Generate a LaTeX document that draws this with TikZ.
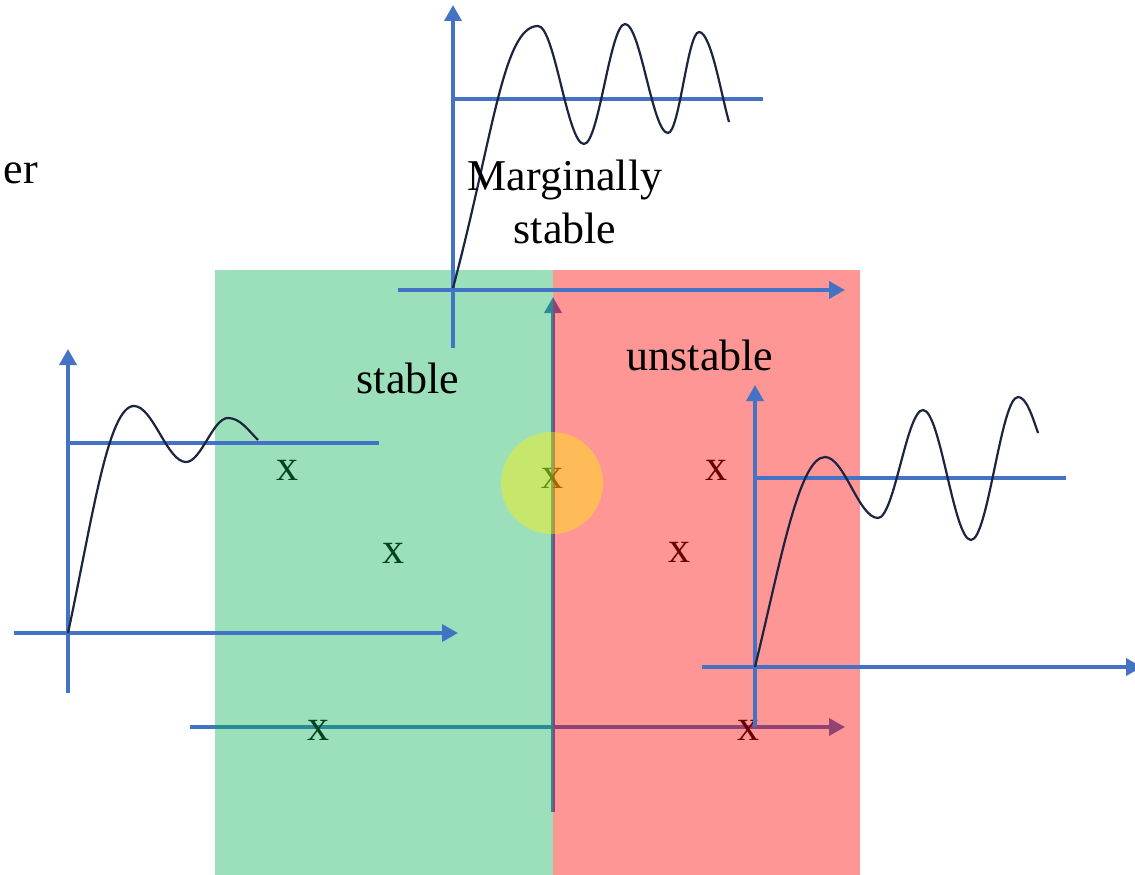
\documentclass[tikz,border=0pt]{standalone}
\usepackage{fontspec}
\setmainfont{Liberation Serif}
\usetikzlibrary{positioning,arrows.meta}
\definecolor{axisblue}{HTML}{4472C4}
\definecolor{curvenavy}{HTML}{1C2440}
\definecolor{stabgreen}{HTML}{00B050}
\definecolor{unstabred}{HTML}{FF0000}
\definecolor{margyellow}{HTML}{FFF000}

\begin{document}
\begin{tikzpicture}[x=1pt, y=-1pt,
  font=\fontsize{44}{53}\selectfont,
  axisln/.style={draw=axisblue, line width=3.6pt},
  axisar/.style={axisln, -{Triangle[length=16pt, width=17pt]}},
  resp/.style={draw=curvenavy, line width=2.2pt},
  lbl/.style={inner sep=0pt, text=black},
  pole/.style={inner sep=0pt, text=black},
  stabfill/.style={fill=stabgreen, fill opacity=0.39},
  unstabfill/.style={fill=unstabred, fill opacity=0.41},
  margfill/.style={fill=margyellow, fill opacity=0.42}
]
\useasboundingbox (0,0) rectangle (1135,875);

% s-plane, under the coloured regions
\coordinate (so) at (553,727);
\draw[axisar] (190,727) -- (845,727);
\draw[axisar] (553,812) -- (553,297);
\node[pole] (p1) at (287,470) {x};
\node[pole] (p2) at (393,553) {x};
\node[pole] (p3) at (552,478) {x};
\node[pole] (p4) at (716,470) {x};
\node[pole] (p5) at (679,552) {x};
\node[pole] (p6) at (318,730) {x};
\node[pole] (p7) at (748,730) {x};

% regions
\fill[stabfill] (215,270) rectangle (553,875);
\fill[unstabfill] (553,270) rectangle (860,875);
\fill[margfill] (p3) ++(0,5) circle (51);

% stable response
\coordinate (lo) at (68,633);
\draw[axisar] (14,633) -- (458,633);
\draw[axisar] (68,693) -- (68,349);
\draw[axisln] (68,443) -- (379,443);
\draw[resp] (lo) .. controls +(24,-112) and +(-26,0) .. (134,406)
  .. controls +(18.9,0) and +(-18.9,0) .. (186,462)
  .. controls +(15.2,0) and +(-15.2,0) .. (228,418)
  .. controls +(12,0) and +(-10,-10) .. (258,440);

% marginally stable response
\coordinate (mo) at (453,290);
\draw[axisar] (398,290) -- (845,290);
\draw[axisar] (453,348) -- (453,5);
\draw[axisln] (453,99) -- (763,99);
\draw[resp] (453,288) .. controls +(40,-150) and +(-35,0) .. (538,26)
  .. controls +(16.7,0) and +(-16.7,0) .. (584,144)
  .. controls +(14.9,0) and +(-14.9,0) .. (625,24)
  .. controls +(15.6,0) and +(-15.6,0) .. (668,133)
  .. controls +(11.3,0) and +(-11.3,0) .. (699,32)
  .. controls +(12,0) and +(-8,-28) .. (729,122);

% unstable response
\coordinate (uo) at (755,667);
\draw[axisar] (702,667) -- (1142,667);
\draw[axisar] (755,727) -- (755,385);
\draw[axisln] (755,478) -- (1066,478);
\draw[resp] (uo) .. controls +(25,-103) and +(-26,0) .. (825,457)
  .. controls +(19.2,0) and +(-19.2,0) .. (878,518)
  .. controls +(16.3,0) and +(-16.3,0) .. (923,410)
  .. controls +(17.4,0) and +(-17.4,0) .. (971,540)
  .. controls +(17.1,0) and +(-17.1,0) .. (1018,397)
  .. controls +(8,0) and +(-6,-18) .. (1038,433);

% labels
\node[lbl, anchor=base east] (er) at (38,183) {er};
\node[lbl, anchor=base] (marg) at (565,190) {Marginally};
\node[lbl, anchor=base] (margb) at ([yshift=-53pt]marg.base) {stable};
\node[lbl, anchor=base] (stab) at (408,393) {stable};
\node[lbl, anchor=base] (unstab) at (700,370) {unstable};
\end{tikzpicture}
\end{document}
